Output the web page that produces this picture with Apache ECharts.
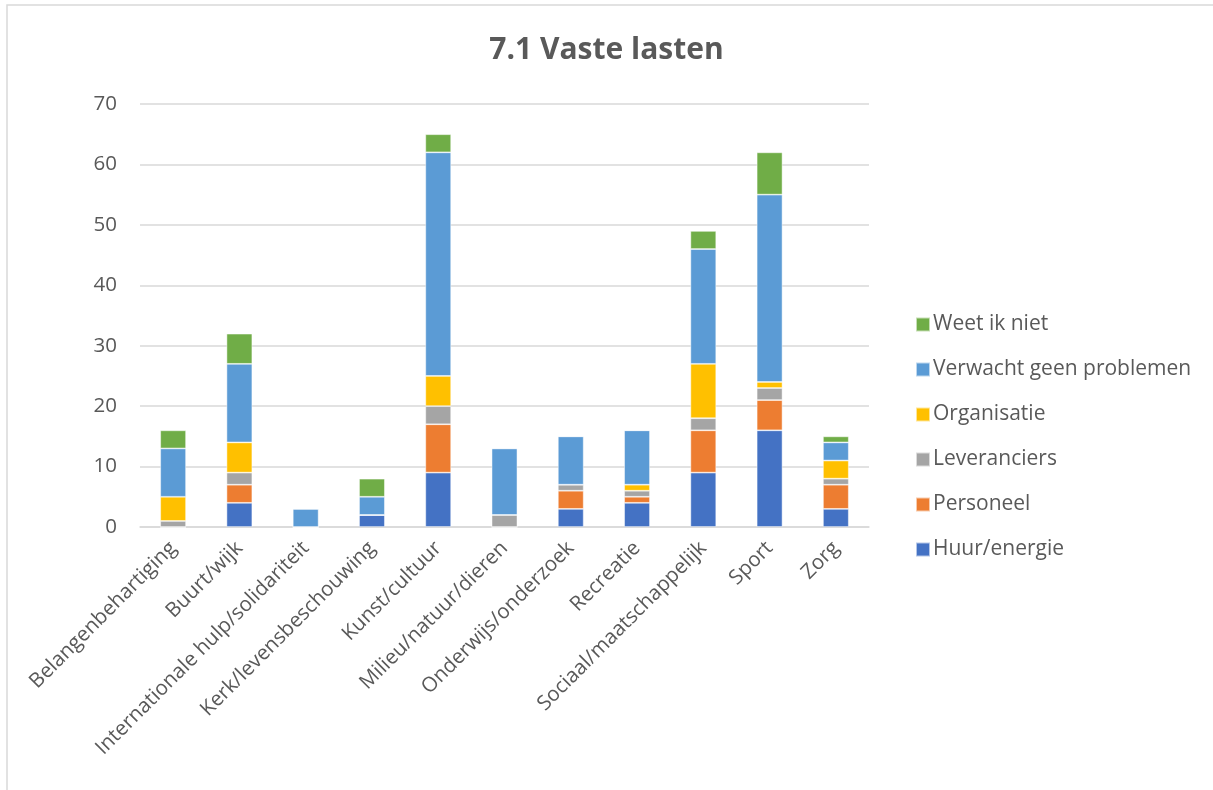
<!DOCTYPE html>
<html><head><meta charset="utf-8">
<script src="https://cdn.jsdelivr.net/npm/echarts@6/dist/echarts.min.js"></script>
<style>html,body{margin:0;padding:0;background:#fff}#c{width:1213px;height:790px}</style>
</head><body><div id="c"></div>
<script>
const categories = ["Belangenbehartiging","Buurt/wijk","Internationale hulp/solidariteit","Kerk/levensbeschouwing","Kunst/cultuur","Milieu/natuur/dieren","Onderwijs/onderzoek","Recreatie","Sociaal/maatschappelijk","Sport","Zorg"];
const huurEnergie   = [0, 4, 0, 2, 9, 0, 3, 4, 9, 16, 3];
const personeel     = [0, 3, 0, 0, 8, 0, 3, 1, 7, 5, 4];
const leveranciers  = [1, 2, 0, 0, 3, 2, 1, 1, 2, 2, 1];
const organisatie   = [4, 5, 0, 0, 5, 0, 0, 1, 9, 1, 3];
const verwachtGeen  = [8, 13, 3, 3, 37, 11, 8, 9, 19, 31, 3];
const weetIkNiet    = [3, 5, 0, 3, 3, 0, 0, 0, 3, 7, 1];
const yTicks = [0, 10, 20, 30, 40, 50, 60, 70];

const seriesDefs = [
  ["Huur/energie", huurEnergie, "#4472C4"],
  ["Personeel", personeel, "#ED7D31"],
  ["Leveranciers", leveranciers, "#A5A5A5"],
  ["Organisatie", organisatie, "#FFC000"],
  ["Verwacht geen problemen", verwachtGeen, "#5B9BD5"],
  ["Weet ik niet", weetIkNiet, "#70AD47"]
];
const font = "'Open Sans', 'Noto Sans', sans-serif";
const chart = echarts.init(document.getElementById('c'), null, {renderer:'canvas'});
chart.setOption({
  animation: false,
  backgroundColor: '#fff',
  graphic: [{
    type: 'rect', shape: {x: 7, y: 5, width: 1300, height: 900},
    style: {fill: 'none', stroke: '#d9d9d9', lineWidth: 1.5}, silent: true, z: -10
  }],
  title: {
    text: "7.1 Vaste lasten", left: 'center', top: 30,
    textStyle: {fontFamily: font, fontWeight: 'bold', fontSize: 30, color: '#595959'}
  },
  legend: {
    orient: 'vertical', left: 910, top: 308,
    data: seriesDefs.map(s => s[0]).reverse(),
    itemWidth: 14, itemHeight: 14, itemGap: 22, icon: 'rect',
    textStyle: {fontFamily: font, fontSize: 21, color: '#595959', lineHeight: 23, padding: [0,0,0,-2]}
  },
  grid: {left: 140, right: 344, top: 104, bottom: 263, containLabel: false},
  xAxis: {
    type: 'category', data: categories,
    axisLine: {lineStyle: {color: '#d9d9d9', width: 1.5}},
    axisTick: {show: false},
    axisLabel: {rotate: 45, interval: 0, fontFamily: font, fontSize: 20.5, color: '#595959', margin: 18}
  },
  yAxis: {
    type: 'value', min: yTicks[0], max: yTicks[yTicks.length-1], interval: 10,
    axisLine: {show: false}, axisTick: {show: false},
    splitLine: {lineStyle: {color: '#d9d9d9', width: 1.5}},
    axisLabel: {fontFamily: font, fontSize: 20.5, color: '#595959', margin: 23}
  },
  series: seriesDefs.map(([name, data, color]) => ({
    name, type: 'bar', stack: 'total', data, barWidth: '39%',
    itemStyle: {color, borderColor: 'rgba(255,255,255,0.6)', borderWidth: 0.8}
  }))
});
</script></body></html>
